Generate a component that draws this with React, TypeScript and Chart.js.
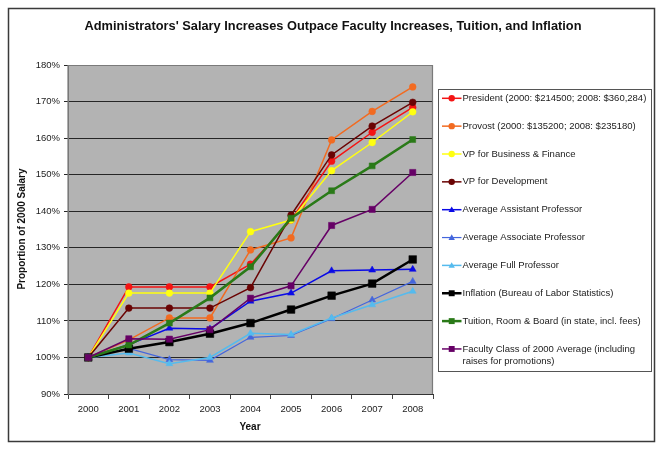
import React, { useEffect, useRef } from "react";
import { Chart, registerables } from "chart.js";

Chart.register(...registerables);

const years = ["2000", "2001", "2002", "2003", "2004", "2005", "2006", "2007", "2008"];
const yTickMin = 90;
const yTickMax = 180;
const yTickStep = 10;

const president = [100, 119.3, 119.3, 119.3, 125.5, 137.6, 153.7, 161.6, 168.4];
const provost = [100, 104.8, 110.8, 110.8, 129.4, 132.7, 159.5, 167.3, 174.0];
const vpBusiness = [100, 117.6, 117.6, 117.6, 134.4, 137.6, 151.1, 158.8, 167.2];
const vpDevelopment = [100, 113.5, 113.5, 113.5, 119.1, 138.9, 155.4, 163.3, 169.8];
const assistantProf = [100, 103.5, 108.0, 107.8, 115.4, 117.6, 123.7, 123.9, 124.1];
const associateProf = [100, 102.5, 99.4, 99.2, 105.5, 106.0, 110.6, 115.7, 120.8];
const fullProf = [100, 101.2, 98.3, 100.0, 106.6, 106.3, 110.8, 114.4, 118.1];
const inflation = [100, 102.4, 104.2, 106.5, 109.4, 113.1, 116.9, 120.2, 126.8];
const tuition = [100, 103.4, 109.4, 116.3, 124.8, 138.1, 145.6, 152.4, 159.6];
const facultyClass = [100, 105.1, 105.0, 107.6, 116.2, 119.6, 136.1, 140.5, 150.6];

const seriesLabels = [
  ["President (2000: $214500; 2008: $360,284)"],
  ["Provost (2000: $135200; 2008: $235180)"],
  ["VP for Business & Finance"],
  ["VP for Development"],
  ["Average Assistant Professor"],
  ["Average Associate Professor"],
  ["Average Full Professor"],
  ["Inflation (Bureau of Labor Statistics)"],
  ["Tuition, Room & Board (in state, incl. fees)"],
  ["Faculty Class of 2000 Average (including", "raises for promotions)"],
];

const seriesData = [
  president, provost, vpBusiness, vpDevelopment, assistantProf,
  associateProf, fullProf, inflation, tuition, facultyClass,
];

const seriesStyle = [
  { color: "#F41414", point: "circle", r: 3.4, w: 1.5 },
  { color: "#F26B21", point: "circle", r: 3.4, w: 1.5 },
  { color: "#FFFF10", point: "circle", r: 3.4, w: 1.5 },
  { color: "#6A0404", point: "circle", r: 3.4, w: 1.5 },
  { color: "#0A0AE6", point: "triangle", r: 4, w: 1.5 },
  { color: "#4466DD", point: "triangle", r: 4, w: 1.2 },
  { color: "#55BBEE", point: "triangle", r: 4, w: 1.5 },
  { color: "#000000", point: "rect", r: 5.4, w: 2.5 },
  { color: "#2A7A18", point: "rect", r: 4.2, w: 2.5 },
  { color: "#660066", point: "rect", r: 4.4, w: 1.5 },
];

const FONT = '"Liberation Sans", Arial, sans-serif';
const TITLE = "Administrators' Salary Increases Outpace Faculty Increases, Tuition, and Inflation";

function drawMarker(ctx: CanvasRenderingContext2D, style: string, x: number, y: number, r: number, color: string) {
  ctx.save();
  ctx.fillStyle = color;
  ctx.beginPath();
  if (style === "circle") {
    ctx.arc(x, y, r, 0, Math.PI * 2);
  } else if (style === "triangle") {
    ctx.moveTo(x, y - r);
    ctx.lineTo(x + r, y + r * 0.75);
    ctx.lineTo(x - r, y + r * 0.75);
    ctx.closePath();
  } else {
    const s = r * Math.SQRT1_2;
    ctx.rect(x - s, y - s, 2 * s, 2 * s);
  }
  ctx.fill();
  ctx.restore();
}

const framePlugin = {
  id: "frame",
  beforeDraw(chart: any) {
    const { ctx, chartArea } = chart;
    const { left, top, right, bottom } = chartArea;
    ctx.save();
    ctx.fillStyle = "#ffffff";
    ctx.fillRect(0, 0, chart.width, chart.height);
    ctx.fillStyle = "#B3B3B3";
    ctx.fillRect(left, top, right - left, bottom - top);
    ctx.restore();
  },
  beforeDatasetsDraw(chart: any) {
    const { ctx, chartArea } = chart;
    const { left, top, right, bottom } = chartArea;
    ctx.save();
    ctx.strokeStyle = "#7A7A7A";
    ctx.lineWidth = 1.2;
    ctx.beginPath();
    ctx.moveTo(left, bottom);
    ctx.lineTo(left, top + 0.5);
    ctx.lineTo(right - 0.5, top + 0.5);
    ctx.lineTo(right - 0.5, bottom);
    ctx.stroke();
    ctx.restore();
  },
  afterDraw(chart: any) {
    const { ctx } = chart;
    ctx.save();
    // outer border
    ctx.strokeStyle = "#3A3A3A";
    ctx.lineWidth = 1.5;
    ctx.strokeRect(8.5, 8.5, 646, 433);

    // title
    ctx.fillStyle = "#111";
    ctx.font = `bold 12px ${FONT}`;
    ctx.textBaseline = "middle";
    ctx.textAlign = "center";
    const tw = ctx.measureText(TITLE).width;
    const target = 497;
    ctx.save();
    ctx.translate(333, 27);
    const sx = Math.max(0.8, Math.min(1.2, target / tw));
    ctx.scale(sx, 1);
    ctx.fillText(TITLE, 0, 0);
    ctx.restore();

    // axis titles
    ctx.font = `bold 10px ${FONT}`;
    ctx.fillStyle = "#111";
    ctx.fillText("Year", 250, 427);
    ctx.save();
    ctx.translate(22, 229);
    ctx.rotate(-Math.PI / 2);
    ctx.fillText("Proportion of 2000 Salary", 0, 0);
    ctx.restore();

    // legend
    ctx.fillStyle = "#ffffff";
    ctx.fillRect(438.5, 89.5, 213, 282);
    ctx.strokeStyle = "#555";
    ctx.lineWidth = 1;
    ctx.strokeRect(438.5, 89.5, 213, 282);
    ctx.font = `9.5px ${FONT}`;
    ctx.textAlign = "left";
    seriesLabels.forEach((lines, i) => {
      const y = 98.3 + i * 27.85;
      const st = seriesStyle[i];
      ctx.strokeStyle = st.color;
      ctx.lineWidth = st.w;
      ctx.beginPath();
      ctx.moveTo(442, y);
      ctx.lineTo(461.5, y);
      ctx.stroke();
      drawMarker(ctx, st.point, 451.7, y, st.point === "rect" ? 4.2 : 3.2, st.color);
      ctx.fillStyle = "#1a1a1a";
      lines.forEach((t, j) => ctx.fillText(t, 462.5, y + j * 12.7));
    });
    ctx.restore();
  },
};

export default function App() {
  const ref = useRef<HTMLCanvasElement | null>(null);

  useEffect(() => {
    document.body.style.margin = "0";
    if (!ref.current) return;
    const datasets = seriesData.map((d, i) => ({
      label: seriesLabels[i].join(" "),
      data: d,
      borderColor: seriesStyle[i].color,
      backgroundColor: seriesStyle[i].color,
      pointBackgroundColor: seriesStyle[i].color,
      pointBorderColor: seriesStyle[i].color,
      pointBorderWidth: 0.5,
      pointStyle: seriesStyle[i].point,
      pointRadius: seriesStyle[i].r,
      borderWidth: seriesStyle[i].w,
      tension: 0,
      fill: false,
      order: 10 - i,
    }));
    const chart = new Chart(ref.current, {
      type: "line",
      data: { labels: years, datasets },
      options: {
        animation: false,
        responsive: false,
        devicePixelRatio: 1,
        layout: { padding: { left: 0, top: 65, right: 230, bottom: 0 } },
        plugins: {
          legend: { display: false },
          tooltip: { enabled: false },
          title: { display: false },
        },
        scales: {
          x: {
            offset: true,
            grid: { offset: true, drawOnChartArea: false, tickLength: 5, color: "#444" },
            border: { display: true, color: "#333", width: 1 },
            ticks: { font: { family: FONT, size: 9.5 }, color: "#222", padding: 5, maxRotation: 0 },
            afterFit: (scale: any) => { scale.height = 58; },
          },
          y: {
            min: yTickMin,
            max: yTickMax,
            ticks: {
              stepSize: yTickStep,
              font: { family: FONT, size: 9.5 },
              color: "#222",
              padding: 4,
              callback: (v: any) => `${v}%`,
            },
            grid: { color: "#262626", lineWidth: 1, tickLength: 4 },
            border: { display: true, color: "#777", width: 1 },
            afterFit: (scale: any) => { scale.width = 68; },
          },
        },
      },
      plugins: [framePlugin],
    });
    return () => chart.destroy();
  }, []);

  return (
    <div style={{ width: 663, height: 452 }}>
      <canvas ref={ref} width={663} height={452} style={{ display: "block" }} />
    </div>
  );
}
